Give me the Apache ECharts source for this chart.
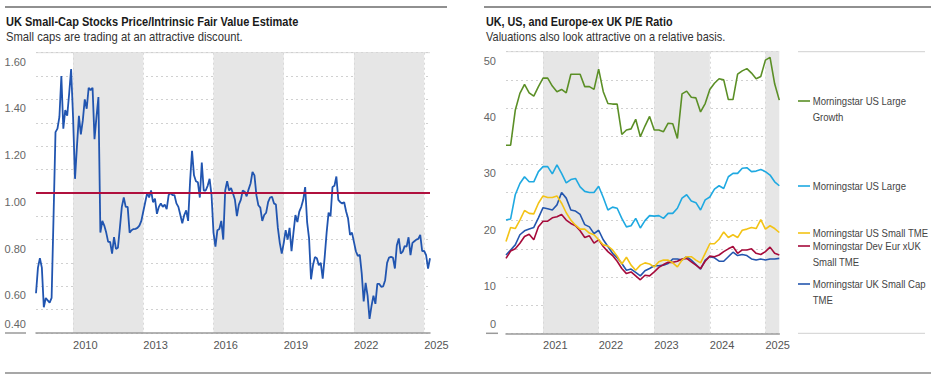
<!DOCTYPE html>
<html><head><meta charset="utf-8">
<script src="https://cdn.jsdelivr.net/npm/echarts@6/dist/echarts.min.js"></script>
<style>html,body{margin:0;padding:0;background:#fff}#c{width:936px;height:380px}</style>
</head><body><div id="c"></div>
<script>
// ---------- Left chart data (monthly, from Jun 2008) ----------
const leftStartYear = 2008, leftStartMonth = 6;
const ukSmallCapPriceFV = [
0.57,0.68,0.72,0.68,0.51,0.55,0.54,0.53,0.55,0.90,
1.26,1.275,1.325,1.50,1.275,1.354,1.33,1.425,1.53,1.325,
1.06,1.20,1.33,1.25,1.31,1.40,1.36,1.45,1.44,1.45,
1.23,1.325,1.41,0.83,0.88,0.86,0.83,0.79,0.79,0.74,
0.81,0.76,0.765,0.85,0.94,0.98,0.94,0.94,0.83,0.84,
0.845,0.846,0.85,0.86,0.88,0.92,0.96,1.00,0.98,1.01,
0.96,0.975,0.91,0.94,0.955,0.94,0.95,0.93,0.99,1.00,
0.99,0.99,0.955,0.94,0.905,0.87,0.905,0.925,0.88,1.05,
1.18,1.075,1.05,1.045,0.98,1.13,1.01,1.01,1.03,1.06,
0.99,0.83,0.77,0.84,0.845,0.88,0.80,1.01,1.05,1.01,
1.02,0.997,0.97,0.90,0.95,0.97,1.01,1.005,0.985,1.015,
1.04,1.09,1.075,0.99,0.947,0.937,0.88,0.905,0.915,0.96,
0.98,0.983,0.955,0.95,0.85,0.785,0.74,0.785,0.84,0.80,
0.85,0.75,0.83,0.905,0.875,0.92,0.94,0.97,1.025,0.875,
0.805,0.63,0.69,0.725,0.72,0.69,0.70,0.633,0.725,0.83,
0.915,0.90,1.025,1.03,1.07,0.97,0.96,0.955,0.96,0.92,
0.89,0.82,0.83,0.79,0.75,0.73,0.735,0.655,0.535,0.615,
0.56,0.46,0.515,0.56,0.525,0.61,0.61,0.598,0.60,0.626,
0.70,0.723,0.726,0.723,0.676,0.776,0.805,0.74,0.748,0.772,
0.77,0.81,0.733,0.786,0.793,0.80,0.803,0.82,0.75,0.752,
0.733,0.676,0.72
];
const fairValue = 1.0;
const leftBandYears = [[2010, 2013], [2016, 2019], [2022, 2025]];
const leftYearLabels = [2010, 2013, 2016, 2019, 2022, 2025];

// ---------- Right chart data (monthly, from May 2020) ----------
const rightStartYear = 2020, rightStartMonth = 5;
const seriesNames = [
  'Morningstar US Large Growth',
  'Morningstar US Large',
  'Morningstar US Small TME',
  'Morningstar Dev Eur xUK Small TME',
  'Morningstar UK Small Cap TME'
];
const usLargeGrowth = [
33.4,33.4,39.6,42.6,44.2,42.7,42.1,43.8,45.3,45.3,
43.9,42.9,43.3,42.7,46.0,46.0,46.0,43.8,43.8,43.3,
46.9,42.9,40.8,40.7,40.7,35.3,36.1,36.3,38.0,34.9,
36.8,38.5,36.1,36.1,35.8,37.3,37.2,34.6,42.5,43.0,
41.9,41.8,39.3,40.8,43.3,44.4,45.2,45.0,41.5,41.5,
46.0,46.6,47.0,46.2,45.2,45.6,48.5,49.0,44.3,41.4
];
const usLarge = [
20.1,20.3,24.6,26.6,27.8,26.9,26.9,28.7,29.6,29.6,
28.3,29.9,28.4,26.7,27.3,27.5,26.0,25.2,25.0,25.0,
26.1,24.1,21.9,22.4,22.2,20.4,18.9,19.1,20.4,18.7,
20.0,20.9,20.8,20.9,20.4,21.3,21.3,22.2,24.0,24.6,
23.5,23.2,21.9,23.7,24.2,25.6,26.2,25.7,27.8,28.4,
28.4,29.3,29.4,28.7,28.8,29.1,28.7,28.1,26.9,26.2
];
const usSmall = [
16.3,18.8,18.6,20.1,21.8,21.3,21.2,23.1,24.4,24.1,
24.1,24.4,23.1,21.4,20.1,19.2,18.5,18.5,17.8,17.5,
16.6,15.7,15.5,14.8,13.7,12.3,13.5,12.1,11.2,12.1,
12.5,12.3,11.8,12.7,13.0,13.0,12.5,11.8,13.0,13.6,
13.6,13.0,12.5,14.2,15.9,15.9,16.7,18.0,17.0,17.5,
17.0,18.3,18.5,18.8,18.6,20.2,18.5,19.1,18.6,17.9
];
const devEurXUKSmall = [
13.3,14.6,15.0,16.0,17.2,17.6,16.6,18.9,19.9,19.9,
20.5,20.7,21.1,20.1,19.5,19.1,18.2,17.0,17.3,16.0,
16.6,15.4,14.5,13.8,12.8,11.5,10.6,10.9,10.2,9.5,
10.3,10.2,10.9,11.7,12.2,12.6,12.6,12.8,13.2,13.3,
12.7,12.1,11.5,12.8,13.7,13.6,13.9,14.5,15.0,15.4,
14.2,14.8,14.8,15.0,14.2,14.0,14.5,15.3,14.2,13.9
];
const ukSmallCap = [
13.9,14.8,15.7,17.5,18.2,18.5,18.8,20.5,22.3,22.1,
21.9,22.8,25.0,24.0,21.9,21.7,21.1,19.3,18.9,17.7,
18.3,16.6,15.4,14.2,13.4,12.4,11.2,11.4,10.8,10.2,
11.1,11.5,12.0,12.0,12.1,12.4,13.2,13.2,13.0,13.6,
13.0,12.2,11.4,13.0,13.6,13.4,12.8,12.8,13.6,14.4,
13.8,14.0,13.8,13.2,13.0,13.2,13.0,13.2,13.2,13.3
];
const rightBandMonths = [[[2021,1],[2022,1]], [[2023,1],[2024,1]], [[2025,1],[2025,4]]];
const rightYearLabels = [2021, 2022, 2023, 2024, 2025];

// ---------- texts ----------
const leftTitle = 'UK Small-Cap Stocks Price/Intrinsic Fair Value Estimate';
const leftSubtitle = 'Small caps are trading at an attractive discount.';
const rightTitle = 'UK, US, and Europe-ex UK P/E Ratio';
const rightSubtitle = 'Valuations also look attractive on a relative basis.';

// ---------- styling / layout ----------
const seriesColors = ['#5b8f26', '#1fa9e1', '#f3c316', '#a60b3b', '#2456ae'];
const legendLines = [['Morningstar US Large', 'Growth'], ['Morningstar US Large'], ['Morningstar US Small TME'], ['Morningstar Dev Eur xUK', 'Small TME'], ['Morningstar UK Small Cap', 'TME']];
const legendCenters = [101, 186, 233, 246, 284];
const FONT = "'Liberation Sans','Arial',sans-serif";
const BAND = '#e6e6e6';

// decimal-year position of a month
function yr(y, m) { return y + (m - 1) / 12; }
function monthly(y0, m0, vals) { return vals.map((v, k) => [yr(y0, m0 + k), v]); }

const leftData = monthly(leftStartYear, leftStartMonth, ukSmallCapPriceFV);
const rightSets = [usLargeGrowth, usLarge, usSmall, devEurXUKSmall, ukSmallCap].map(v => monthly(rightStartYear, rightStartMonth, v));
const leftMin = leftData[0][0], leftMax = leftData[leftData.length - 1][0];
const rightMin = rightSets[0][0][0], rightMax = rightSets[0][rightSets[0].length - 1][0];

function yLabel(decimals, step, lowest) {
  return {
    color: '#666', fontSize: 11, fontFamily: FONT, margin: 10,
    formatter: function (v) {
      const k = Math.round(v / step * 100) / 100;
      if (Math.abs(k - Math.round(k)) > 1e-6 || Math.round(k) % 2) return '';
      const s = v.toFixed(decimals);
      return Math.abs(v - lowest) < 1e-9 ? '{lo|' + s + '}' : '{hi|' + s + '}';
    },
    rich: {
      hi: { padding: [18, 0, 0, 0], color: '#666', fontSize: 11, fontFamily: FONT },
      lo: { padding: [0, 0, 18, 0], color: '#666', fontSize: 11, fontFamily: FONT }
    }
  };
}
const splitDotted = { show: true, lineStyle: { color: '#d0d0d0', type: [2, 3], width: 1 } };

function xAxisCfg(gi, min, max, years) {
  return {
    type: 'value', gridIndex: gi, min: min, max: max, z: 2,
    axisLine: { show: true, onZero: false, lineStyle: { color: '#9a9a9a', width: 1.5 } },
    axisTick: { show: false, customValues: years },
    splitLine: { show: true, lineStyle: { color: '#d8d8d8', type: [2, 3], width: 1 } },
    axisLabel: {
      customValues: years, align: 'left', margin: 6, color: '#555', fontSize: 11, fontFamily: FONT,
      formatter: v => String(Math.round(v))
    }
  };
}

const series = [];
series.push({
  type: 'line', xAxisIndex: 0, yAxisIndex: 0, data: [], z: 1, silent: true,
  markArea: { silent: true, itemStyle: { color: BAND }, data: leftBandYears.map(b => [{ xAxis: b[0] }, { xAxis: b[1] }]) }
});
series.push({
  name: 'UK Small-Cap Price/Fair Value', type: 'line', xAxisIndex: 0, yAxisIndex: 0, data: leftData, z: 3,
  showSymbol: false, lineStyle: { color: '#2155b0', width: 1.8 }, itemStyle: { color: '#2155b0' },
  markLine: { silent: true, symbol: 'none', label: { show: false }, lineStyle: { color: '#b0103e', width: 2, type: 'solid' }, data: [{ yAxis: fairValue }] }
});
series.push({
  type: 'line', xAxisIndex: 1, yAxisIndex: 1, data: [], z: 1, silent: true,
  markArea: { silent: true, itemStyle: { color: BAND }, data: rightBandMonths.map(b => [{ xAxis: yr(b[0][0], b[0][1]) }, { xAxis: yr(b[1][0], b[1][1]) }]) }
});
rightSets.forEach((d, i) => {
  series.push({
    name: seriesNames[i], type: 'line', xAxisIndex: 1, yAxisIndex: 1, data: d, z: 3 + (4 - i),
    showSymbol: false, lineStyle: { color: seriesColors[i], width: 1.6 }, itemStyle: { color: seriesColors[i] }
  });
});

const graphic = [];
function hline(x1, x2, y, color, w) { graphic.push({ type: 'line', silent: true, shape: { x1: x1, y1: y, x2: x2, y2: y }, style: { stroke: color, lineWidth: w } }); }
function text(str, x, y, sx, style) {
  graphic.push({ type: 'text', silent: true, x: x, y: y, scaleX: sx, style: Object.assign({ text: str, x: 0, y: 0, fontFamily: FONT, align: 'left' }, style) });
}
hline(5, 447, 7, '#222', 1.2);
hline(484, 931, 7, '#222', 1.2);
hline(5, 931, 373, '#8a8a8a', 1.5);
hline(5, 26, 333, '#9a9a9a', 1.5);
hline(486, 498, 333.3, '#9a9a9a', 1.5);
hline(36, 430, 52.7, '#dcdcdc', 1);
hline(506, 779.3, 51.7, '#dcdcdc', 1);
hline(798, 925, 51.7, '#d0d0d0', 1);
hline(798, 925, 333.3, '#d0d0d0', 1);

const titleStyle = { fontSize: 12, fontWeight: 'bold', fill: '#1a1a1a', verticalAlign: 'middle' };
const subStyle = { fontSize: 12.5, fill: '#333', verticalAlign: 'middle' };
text(leftTitle, 6, 21.5, 0.92, titleStyle);
text(leftSubtitle, 6, 36.5, 0.9, subStyle);
text(rightTitle, 486, 21.5, 0.9, titleStyle);
text(rightSubtitle, 486, 36.5, 0.88, subStyle);

legendLines.forEach((lines, i) => {
  const y = legendCenters[i];
  hline(798, 810, y, seriesColors[i], 1.6);
  text(lines.join('\n'), 812.7, y - 8.25, 0.91, { fill: '#444', fontSize: 10.5, lineHeight: 16.5, verticalAlign: 'top' });
});

const option = {
  animation: false,
  backgroundColor: '#fff',
  grid: [
    { left: 36, right: 506, top: 52.7, bottom: 47 },
    { left: 506, right: 156.7, top: 51.7, bottom: 46.7 }
  ],
  xAxis: [xAxisCfg(0, leftMin, leftMax, leftYearLabels), xAxisCfg(1, rightMin, rightMax, rightYearLabels)],
  yAxis: [
    { type: 'value', gridIndex: 0, min: 0.4, max: 1.6, interval: 0.1, axisLine: { show: false }, axisTick: { show: false }, splitLine: splitDotted, axisLabel: yLabel(2, 0.1, 0.4) },
    { type: 'value', gridIndex: 1, min: 0, max: 50, interval: 5, axisLine: { show: false }, axisTick: { show: false }, splitLine: splitDotted, axisLabel: yLabel(0, 5, 0) }
  ],
  series: series,
  graphic: graphic
};
const chart = echarts.init(document.getElementById('c'), null, { renderer: 'svg' });
chart.setOption(option);
</script>
</body></html>
